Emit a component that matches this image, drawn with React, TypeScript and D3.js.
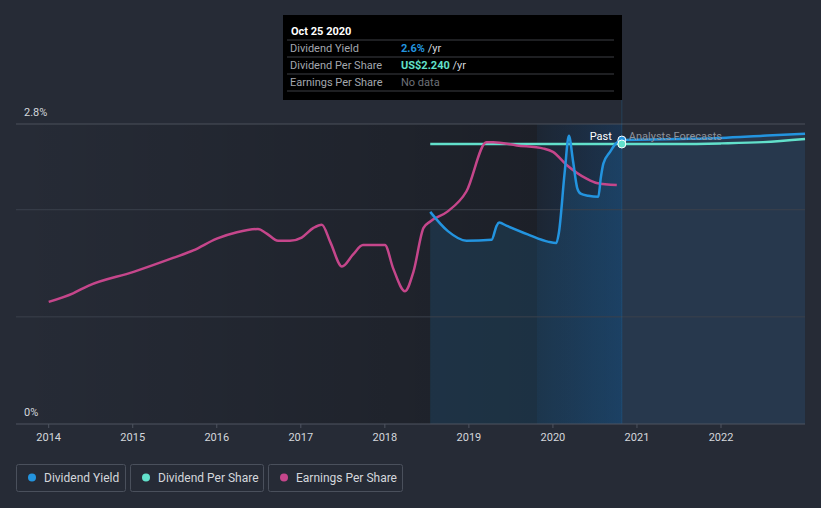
import React from "react";
import * as d3 from "d3";

// ---- data (decimal years) ----
const yieldDates = [2018.54, 2018.75, 2018.97, 2019.27, 2019.33, 2019.36, 2019.45, 2019.7, 2019.95, 2020.04, 2020.07, 2020.14, 2020.19, 2020.24, 2020.29, 2020.33, 2020.42, 2020.54, 2020.57, 2020.6, 2020.68, 2020.75, 2020.82];
const yieldValues = [1.98, 1.8, 1.71, 1.72, 1.85, 1.88, 1.85, 1.77, 1.7, 1.69, 1.78, 2.35, 2.69, 2.45, 2.2, 2.15, 2.13, 2.12, 2.3, 2.43, 2.54, 2.62, 2.65];
const yieldForecastDates = [2020.82, 2021.5, 2022.0, 2022.5, 2023.0];
const yieldForecastValues = [2.65, 2.66, 2.67, 2.69, 2.71];

const dpsDates = [2018.54, 2019.0, 2019.5, 2020.0, 2020.5, 2020.82];
const dpsValues = [2.24, 2.24, 2.24, 2.24, 2.24, 2.24];
const dpsForecastDates = [2020.82, 2021.5, 2022.0, 2022.5, 2023.0];
const dpsForecastValues = [2.24, 2.24, 2.245, 2.255, 2.28];

const epsDates = [2014.0, 2014.29, 2014.47, 2015.01, 2015.48, 2015.72, 2016.0, 2016.24, 2016.49, 2016.59, 2016.73, 2016.87, 2017.01, 2017.15, 2017.25, 2017.35, 2017.49, 2017.62, 2017.74, 2018.0, 2018.1, 2018.24, 2018.34, 2018.46, 2018.54, 2018.74, 2018.97, 2019.21, 2019.29, 2019.57, 2019.89, 2020.0, 2020.16, 2020.4, 2020.52, 2020.76];
const epsValues = [1.14, 1.22, 1.29, 1.42, 1.55, 1.62, 1.73, 1.79, 1.82, 1.78, 1.71, 1.71, 1.74, 1.83, 1.86, 1.7, 1.47, 1.58, 1.67, 1.67, 1.45, 1.24, 1.42, 1.83, 1.89, 1.98, 2.17, 2.63, 2.63, 2.6, 2.57, 2.54, 2.42, 2.29, 2.25, 2.23];

const xTicks = [2014, 2015, 2016, 2017, 2018, 2019, 2020, 2021, 2022];
const yTickLabels = ["0%", "2.8%"];
const yGridValues = [1, 2];
const legendItems = ["Dividend Yield", "Dividend Per Share", "Earnings Per Share"];
const bandStart = 2019.81;
const todayYear = 2020.82;

const C = {
  bg: "#262b36",
  blue: "#2394df",
  teal: "#62e0cb",
  pink: "#c5468b",
  text: "#d4d7dc",
  grid: "#3a404c",
};

export default function App() {
  const W = 821, H = 508;
  const left = 16, right = 805, top = 124, bottom = 424;
  const x = d3.scaleLinear().domain([2014, 2022]).range([48.7, 721]);
  const y = d3.scaleLinear().domain([0, 2.8]).range([bottom, top]);
  const yDps = d3.scaleLinear().domain([0, 2.4]).range([bottom, top]);

  const line = (ys: d3.ScaleLinear<number, number>) =>
    d3.line<[number, number]>().x((d) => x(d[0])).y((d) => ys(d[1])).curve(d3.curveMonotoneX);
  const area = d3.area<[number, number]>().x((d) => x(d[0])).y0(bottom).y1((d) => y(d[1])).curve(d3.curveMonotoneX);

  const zip = (a: number[], b: number[]) => a.map((v, i) => [v, b[i]] as [number, number]);
  const yieldPts = zip(yieldDates, yieldValues);
  const yieldFc = zip(yieldForecastDates, yieldForecastValues);
  const dpsPts = zip(dpsDates, dpsValues);
  const dpsFc = zip(dpsForecastDates, dpsForecastValues);
  const epsPts = zip(epsDates, epsValues);

  const tx = x(todayYear);
  const font = "Roboto, 'Open Sans', sans-serif";

  const legendX = [16, 130, 268];
  const legendW = [109, 133, 134];
  const legendColors = [C.blue, C.teal, C.pink];

  return (
    <svg width={W} height={H} style={{ position: "absolute", left: 0, top: 0, background: C.bg, fontFamily: font }}>
      <defs>
        <linearGradient id="pastGrad" x1="0" x2="1" y1="0" y2="0">
          <stop offset="0" stopColor="#000" stopOpacity="0" />
          <stop offset="1" stopColor="#000" stopOpacity="0.3" />
        </linearGradient>
        <linearGradient id="bandGrad" x1="0" x2="1" y1="0" y2="0">
          <stop offset="0" stopColor="#1f7fe0" stopOpacity="0.06" />
          <stop offset="1" stopColor="#1f7fe0" stopOpacity="0.22" />
        </linearGradient>
      </defs>
      <rect x={0} y={0} width={W} height={H} fill={C.bg} />
      <rect x={left} y={top} width={tx - left} height={bottom - top} fill="url(#pastGrad)" />
      <path d={area(yieldPts) || ""} fill={C.blue} fillOpacity={0.15} />
      <rect x={x(bandStart)} y={top} width={tx - x(bandStart)} height={bottom - top} fill="url(#bandGrad)" />
      <path d={area(yieldFc) || ""} fill="#2b4a6b" fillOpacity={0.45} />
      {yGridValues.map((v) => (
        <line key={v} x1={left} x2={right} y1={y(v)} y2={y(v)} stroke={C.grid} strokeWidth={1} />
      ))}
      <line x1={left} x2={right} y1={y(2.8)} y2={y(2.8)} stroke="#4a505b" strokeWidth={1} />
      <line x1={tx} x2={tx} y1={100} y2={bottom} stroke={C.blue} strokeOpacity={0.2} />
      <path d={line(yDps)(dpsPts) || ""} fill="none" stroke={C.teal} strokeWidth={2.5} />
      <path d={line(yDps)(dpsFc) || ""} fill="none" stroke={C.teal} strokeWidth={2.5} />
      <path d={line(y)(yieldFc) || ""} fill="none" stroke={C.blue} strokeWidth={2.5} />
      <path d={line(y)(epsPts) || ""} fill="none" stroke={C.pink} strokeWidth={2.5} />
      <path d={line(y)(yieldPts) || ""} fill="none" stroke={C.blue} strokeWidth={2.5} />
      <circle cx={tx} cy={y(2.65)} r={4} fill={C.blue} stroke="#fff" strokeWidth={1} />
      <circle cx={tx} cy={yDps(2.24)} r={4} fill={C.teal} stroke="#fff" strokeWidth={1} />
      <text x={tx - 10} y={140} textAnchor="end" fill="#fff" fontSize={11}>Past</text>
      <text x={tx + 7} y={140} fill="#8d929b" fontSize={11}>Analysts Forecasts</text>
      <line x1={left} x2={right} y1={bottom} y2={bottom} stroke="#4e5460" strokeWidth={1} />
      {xTicks.map((t) => (
        <g key={t}>
          <line x1={x(t)} x2={x(t)} y1={bottom} y2={bottom + 4} stroke="#4e5460" />
          <text x={x(t)} y={441} textAnchor="middle" fill={C.text} fontSize={11}>{d3.format("d")(t)}</text>
        </g>
      ))}
      <text x={24} y={116} fill={C.text} fontSize={11}>{yTickLabels[1]}</text>
      <text x={24} y={416} fill={C.text} fontSize={11}>{yTickLabels[0]}</text>
      <rect x={283} y={15} width={339} height={85} fill="#000" />
      <text x={291} y={35} fill="#fff" fontSize={11} fontWeight="bold">Oct 25 2020</text>
      {[40, 57, 74, 91].map((ly) => (
        <line key={ly} x1={287} x2={614} y1={ly} y2={ly} stroke="#3c3f45" />
      ))}
      <text x={290} y={52} fill="#a3a7ae" fontSize={11}>Dividend Yield</text>
      <text x={290} y={69} fill="#a3a7ae" fontSize={11}>Dividend Per Share</text>
      <text x={290} y={86} fill="#a3a7ae" fontSize={11}>Earnings Per Share</text>
      <text x={401} y={52} fontSize={11}>
        <tspan fill={C.blue} fontWeight="bold">2.6%</tspan>
        <tspan fill="#d4d7dc"> /yr</tspan>
      </text>
      <text x={401} y={69} fontSize={11}>
        <tspan fill={C.teal} fontWeight="bold">US$2.240</tspan>
        <tspan fill="#d4d7dc"> /yr</tspan>
      </text>
      <text x={401} y={86} fill="#6d7179" fontSize={11}>No data</text>
      {legendItems.map((name, i) => (
        <g key={name}>
          <rect x={legendX[i] + 0.5} y={464.5} width={legendW[i]} height={27} rx={2} fill="none" stroke="#4a505c" />
          <circle cx={legendX[i] + 16} cy={477.5} r={4} fill={legendColors[i]} />
          <text x={legendX[i] + 28} y={482} fill={C.text} fontSize={12}>{name}</text>
        </g>
      ))}
    </svg>
  );
}
